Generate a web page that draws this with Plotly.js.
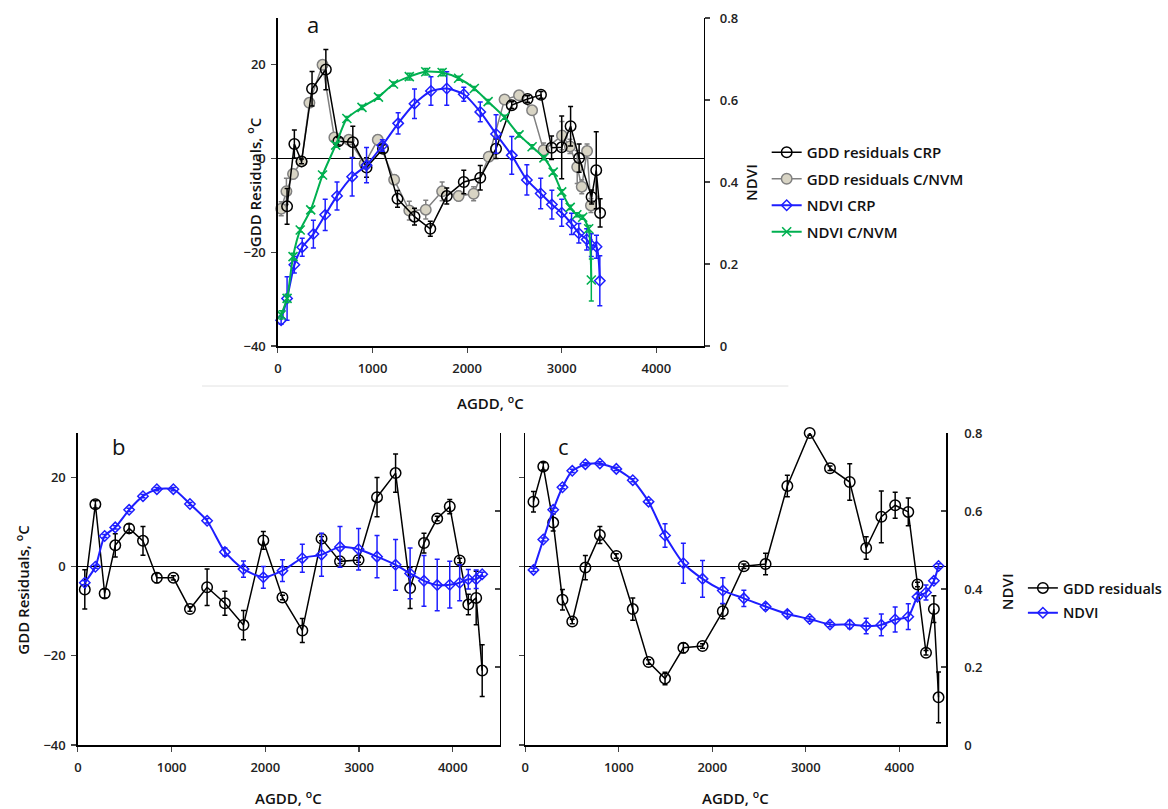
<!DOCTYPE html>
<html>
<head>
<meta charset="utf-8">
<script src="https://cdn.plot.ly/plotly-3.0.1.min.js"></script>
<style>html,body{margin:0;padding:0;background:#fff;}#chart{width:1168px;height:809px;}</style>
</head>
<body>
<div id="chart"></div>
<script>
// ---------- Panel a ----------
const aCrpGddX = [97,174,250,361,507,639,792,937,1111,1264,1444,1611,1785,1965,2139,2306,2472,2639,2781,2893,3000,3094,3184,3316,3365,3406];
const aCrpGddY = [-10.2,3.1,-0.6,14.9,19.0,3.7,3.5,-1.9,2.1,-8.6,-12.4,-15.0,-8.0,-5.0,-4.1,2.1,11.4,12.7,13.6,2.3,2.4,6.9,0.1,-8.2,-2.5,-11.6];
const aCrpGddErr = [3.8,3.0,0.5,3.7,4.3,0.8,3.4,2.1,0.8,1.8,1.8,1.6,1.7,2.5,2.6,2.1,0.7,0.7,0.7,2.5,6.7,4.2,3.0,1.5,8.2,3.0];

const aCnvmGddX = [35,90,160,250,333,472,597,750,917,1056,1229,1389,1563,1736,1910,2069,2229,2396,2549,2687,2809,3003,3087,3164,3212,3268,3309];
const aCnvmGddY = [-10.7,-7.0,-3.3,-0.6,11.9,20.0,4.5,4.0,-1.1,4.0,-4.5,-11.1,-10.9,-7.0,-8.0,-7.5,0.4,12.6,13.5,10.3,1.8,4.9,2.6,-1.8,-6.0,1.6,-10.0];
const aCnvmGddErr = [1.5,2.8,1.0,0.5,0.8,0.8,0.8,0.8,1.0,1.0,1.0,2.0,2.0,2.0,1.0,1.5,0.8,0.8,0.8,0.8,1.5,3.0,1.5,3.5,1.5,1.5,1.5];

const aCrpNdviX = [34,97,174,257,375,500,625,785,937,1104,1271,1444,1618,1785,1965,2139,2306,2472,2632,2778,2896,3000,3104,3181,3264,3313,3368,3403];
const aCrpNdviY = [0.063,0.116,0.198,0.241,0.273,0.320,0.366,0.413,0.441,0.489,0.543,0.591,0.622,0.628,0.614,0.571,0.517,0.465,0.405,0.372,0.345,0.325,0.298,0.275,0.260,0.246,0.242,0.159];
const aCrpNdviErr = [0.01,0.053,0.02,0.022,0.034,0.038,0.034,0.047,0.043,0.014,0.026,0.036,0.035,0.041,0.017,0.024,0.047,0.046,0.037,0.037,0.035,0.033,0.026,0.024,0.026,0.028,0.028,0.061];

const aCnvmNdviX = [34,97,160,236,347,472,611,729,889,1063,1222,1389,1563,1736,1910,2076,2222,2396,2549,2687,2812,2910,3000,3090,3160,3222,3285,3313];
const aCnvmNdviY = [0.076,0.116,0.218,0.283,0.332,0.417,0.490,0.555,0.582,0.607,0.639,0.657,0.669,0.667,0.653,0.628,0.596,0.558,0.515,0.486,0.459,0.424,0.376,0.338,0.320,0.314,0.286,0.161];
const aCnvmNdviErr = [0.01,0.01,0.008,0.005,0.005,0.005,0.005,0.005,0.005,0.005,0.005,0.008,0.008,0.008,0.005,0.005,0.005,0.005,0.005,0.005,0.005,0.005,0.005,0.005,0.005,0.005,0.008,0.051];

// ---------- Panel b ----------
const bX = [74,187,286,399,547,695,843,1019,1196,1379,1569,1767,1979,2183,2395,2600,2797,2995,3192,3390,3545,3693,3834,3968,4074,4166,4250,4314];
const bGdd = [-5.1,14.0,-6.0,4.8,8.6,5.8,-2.5,-2.5,-9.5,-4.6,-8.2,-13.1,5.9,-6.9,-14.3,6.3,1.2,1.5,15.6,21.0,-4.8,5.3,10.8,13.5,1.4,-8.5,-7.0,-23.3];
const bGddErr = [4.4,0.8,1.0,2.6,1.0,3.2,1.1,0.5,0.5,4.1,2.7,3.3,2.0,0.5,2.7,0.5,0.5,0.5,4.4,4.3,4.6,2.2,0.5,1.6,0.5,2.3,6.0,5.8];
const bNdvi = [0.416,0.457,0.536,0.558,0.603,0.638,0.656,0.656,0.618,0.575,0.495,0.451,0.430,0.447,0.479,0.488,0.508,0.502,0.483,0.462,0.440,0.421,0.410,0.411,0.416,0.425,0.425,0.438];
const bNdviErr = [0.005,0.004,0.004,0.004,0.004,0.004,0.004,0.004,0.004,0.006,0.01,0.021,0.028,0.028,0.036,0.055,0.052,0.053,0.054,0.065,0.065,0.065,0.066,0.06,0.046,0.025,0.024,0.005];

// ---------- Panel c ----------
const cX = [88,193,299,398,503,643,798,974,1150,1319,1495,1691,1896,2113,2338,2570,2803,3042,3259,3470,3646,3808,3956,4096,4195,4286,4370,4420];
const cGdd = [14.6,22.5,9.9,-7.4,-12.3,-0.2,7.1,2.4,-9.5,-21.4,-25.1,-18.2,-17.8,-10.0,0.1,0.6,18.1,30.0,22.1,19.0,4.2,11.2,13.8,12.3,-4.0,-19.3,-9.5,-29.3];
const cGddErr = [2.3,0.8,1.9,2.3,0.5,2.7,1.9,0.5,2.5,0.5,1.4,1.1,0.5,1.7,0.5,2.4,2.4,0.5,0.5,4.1,2.5,5.8,2.9,3.1,0.5,0.5,3.0,5.7];
const cNdvi = [0.449,0.527,0.603,0.661,0.703,0.720,0.722,0.708,0.679,0.624,0.537,0.466,0.426,0.396,0.376,0.355,0.336,0.323,0.309,0.309,0.305,0.308,0.322,0.329,0.380,0.391,0.421,0.459];
const cNdviErr = [0.004,0.004,0.004,0.004,0.004,0.004,0.004,0.004,0.004,0.004,0.030,0.051,0.047,0.033,0.021,0.008,0.008,0.006,0.006,0.01,0.02,0.028,0.032,0.033,0.008,0.019,0.006,0.006];

const xTicks = [0,1000,2000,3000,4000];
const gddTicks = [-40,-20,0,20];
const ndviTicks = [0,0.2,0.4,0.6,0.8];
const ndviTickText = ['0','0.2','0.4','0.6','0.8'];

const BLACK = '#000000', GRAY = '#808080', GRAYFILL = '#d8d4c4', BLUE = '#1e1eff', GREEN = '#00b050';
const FONT = 'Open Sans, Liberation Sans, Arial, sans-serif';

function blackTrace(x, y, err, xa, ya, name, legend, show) {
  return {x, y, xaxis: xa, yaxis: ya, name, type: 'scatter', mode: 'lines+markers',
    legend: legend, showlegend: show, cliponaxis: false,
    line: {color: BLACK, width: 1.5},
    marker: {symbol: 'circle-open', size: 10.5, color: BLACK, line: {color: BLACK, width: 1.5}},
    error_y: {type: 'data', array: err, color: BLACK, thickness: 1.5, width: 2.5}};
}
function blueTrace(x, y, err, xa, ya, name, legend, show) {
  return {x, y, xaxis: xa, yaxis: ya, name, type: 'scatter', mode: 'lines+markers',
    legend: legend, showlegend: show, cliponaxis: false,
    line: {color: BLUE, width: 2, shape: 'spline', smoothing: 0.6},
    marker: {symbol: 'diamond-open', size: 8, color: BLUE, line: {color: BLUE, width: 1.5}},
    error_y: {type: 'data', array: err, color: BLUE, thickness: 1.5, width: 2.5}};
}

const traces = [
  Object.assign(blueTrace(aCrpNdviX, aCrpNdviY, aCrpNdviErr, 'x', 'y2', 'NDVI CRP', 'legend', true), {legendrank: 3, legendgroup: 'a3'}),
  {x: aCnvmNdviX, y: aCnvmNdviY, xaxis: 'x', yaxis: 'y2', name: 'NDVI C/NVM', type: 'scatter', mode: 'lines+markers',
    legendrank: 4, legendgroup: 'a4', cliponaxis: false,
    line: {color: GREEN, width: 2, shape: 'spline', smoothing: 0.6},
    marker: {symbol: 'x-thin', size: 9, color: GREEN, line: {color: GREEN, width: 1.6}},
    error_y: {type: 'data', array: aCnvmNdviErr, color: GREEN, thickness: 1.5, width: 2.5}},
  {x: aCnvmGddX, y: aCnvmGddY, xaxis: 'x', yaxis: 'y', name: 'GDD residuals C/NVM', type: 'scatter', mode: 'lines+markers',
    legendrank: 2, legendgroup: 'a2', cliponaxis: false,
    line: {color: GRAY, width: 1.5},
    marker: {symbol: 'circle', size: 10.5, color: GRAYFILL, line: {color: GRAY, width: 1.5}},
    error_y: {type: 'data', array: aCnvmGddErr, color: GRAY, thickness: 1.5, width: 2.5}},
  Object.assign(blackTrace(aCrpGddX, aCrpGddY, aCrpGddErr, 'x', 'y', 'GDD residuals CRP', 'legend', true), {legendrank: 1, legendgroup: 'a1'}),

  blueTrace(bX, bNdvi, bNdviErr, 'x2', 'y4', 'NDVI', 'legend', false),
  blackTrace(bX, bGdd, bGddErr, 'x2', 'y3', 'GDD residuals', 'legend', false),

  Object.assign(blueTrace(cX, cNdvi, cNdviErr, 'x3', 'y6', 'NDVI', 'legend2', true), {legendrank: 2, legendgroup: 'c2'}),
  Object.assign(blackTrace(cX, cGdd, cGddErr, 'x3', 'y5', 'GDD residuals', 'legend2', true), {legendrank: 1, legendgroup: 'c1'})
];

const tickFont = {family: FONT, size: 13, color: '#222', weight: 600};
function xAxis(domain, anchor) {
  return {domain, anchor, range: [0, 4500], tickvals: xTicks, ticks: 'outside', ticklen: 5, tickwidth: 1.2,
    ticklabelstandoff: 5,
    showline: true, linecolor: BLACK, linewidth: 1.5, showgrid: false, zeroline: false, tickfont: tickFont, fixedrange: true};
}
function gddAxis(domain, anchor, labels) {
  return {domain, anchor, range: [-40, 30], tickvals: gddTicks, ticks: 'outside', ticklen: 5, tickwidth: 1.2,
    ticklabelstandoff: 3,
    showline: true, linecolor: BLACK, linewidth: 1.5, showgrid: false, showticklabels: labels,
    zeroline: true, zerolinecolor: BLACK, zerolinewidth: 1.5, tickfont: tickFont, fixedrange: true};
}
function ndviAxis(overlay, anchor, labels, tickdir, standoff) {
  return {overlaying: overlay, anchor, side: 'right', range: [0, 0.8], tickvals: ndviTicks, ticktext: ndviTickText,
    ticks: tickdir, ticklen: 5, tickwidth: 1.2, showline: true, linecolor: BLACK, linewidth: 1.5,
    ticklabelstandoff: standoff,
    showgrid: false, zeroline: false, showticklabels: labels, tickfont: tickFont, fixedrange: true};
}

const dA_x = [282/1168, 714/1168], dA_y = [1 - 346/809, 1 - 18/809];
const dB_x = [79/1168, 507/1168], dC_x = [533/1168, 960/1168], dBC_y = [1 - 745/809, 1 - 433/809];

const titleFont = {family: FONT, size: 15, color: '#111', weight: 600};
function ann(text, px, py, extra) {
  return Object.assign({text, x: px/1168, y: 1 - py/809, xref: 'paper', yref: 'paper', showarrow: false,
    xanchor: 'center', yanchor: 'middle', font: titleFont}, extra || {});
}

const layout = {
  width: 1168, height: 809,
  margin: {l: 0, r: 0, t: 0, b: 0},
  paper_bgcolor: '#fff', plot_bgcolor: 'rgba(0,0,0,0)',
  font: {family: FONT},
  xaxis: xAxis(dA_x, 'y'),
  yaxis: gddAxis(dA_y, 'x', true),
  yaxis2: ndviAxis('y', 'x', true, 'outside', 7),
  xaxis2: xAxis(dB_x, 'y3'),
  yaxis3: gddAxis(dBC_y, 'x2', true),
  yaxis4: ndviAxis('y3', 'x2', false, 'inside', 0),
  xaxis3: xAxis(dC_x, 'y5'),
  yaxis5: gddAxis(dBC_y, 'x3', false),
  yaxis6: ndviAxis('y5', 'x3', true, 'inside', 14),
  legend: {x: 778/1168, y: 1 - 136/809, xanchor: 'left', yanchor: 'top', bgcolor: 'rgba(0,0,0,0)',
    traceorder: 'grouped', tracegroupgap: 4,
    font: {family: FONT, size: 15, color: '#111', weight: 600}, itemwidth: 30},
  legend2: {x: 1038/1168, y: 1 - 572/809, xanchor: 'left', yanchor: 'top', bgcolor: 'rgba(0,0,0,0)',
    traceorder: 'grouped', tracegroupgap: 3,
    font: {family: FONT, size: 14.5, color: '#111', weight: 600}, itemwidth: 30},
  shapes: [
    {type: 'line', xref: 'paper', yref: 'paper', x0: 205/1168, x1: 800/1168, y0: 1 - 386/809, y1: 1 - 386/809,
      line: {color: '#e2e2e2', width: 1}}
  ],
  annotations: [
    ann('a', 318, 24, {font: {family: FONT, size: 22, color: '#111'}}),
    ann('b', 120, 446, {font: {family: FONT, size: 22, color: '#111'}}),
    ann('c', 572, 446, {font: {family: FONT, size: 22, color: '#111'}}),
    ann('AGDD, <sup>o</sup>C', 498, 402),
    ann('AGDD, <sup>o</sup>C', 293, 797),
    ann('AGDD, <sup>o</sup>C', 746, 797),
    ann('GDD Residuals, <sup>o</sup>C', 258, 182, {textangle: -90}),
    ann('GDD Residuals, <sup>o</sup>C', 22, 590, {textangle: -90}),
    ann('NDVI', 762, 182, {textangle: -90}),
    ann('NDVI', 1022, 592, {textangle: -90})
  ]
};

Plotly.newPlot('chart', traces, layout, {displayModeBar: false, staticPlot: true});
</script>
</body>
</html>
